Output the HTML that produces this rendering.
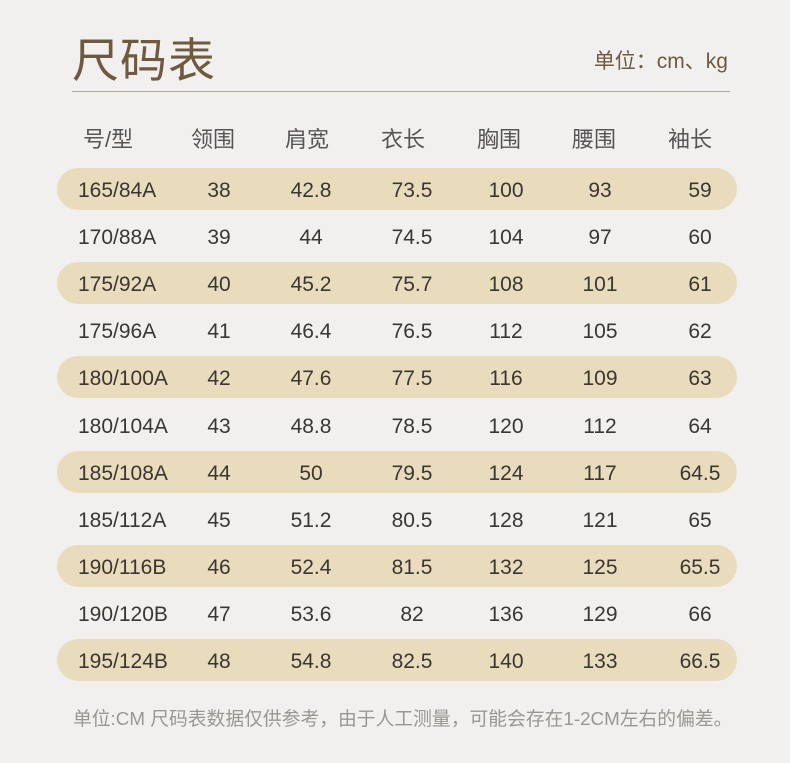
<!DOCTYPE html>
<html><head><meta charset="utf-8"><style>
body{margin:0;width:790px;height:763px;background:#f2f0ee;position:relative;overflow:hidden;font-family:"Liberation Sans","Noto Sans CJK SC",sans-serif}
.a{position:absolute;white-space:nowrap}
.t{left:72px;top:22px;font-size:47px;color:#6e5a3e;letter-spacing:1px}
.u{right:62px;top:45px;font-size:21px;color:#6e5a3e}
.line{left:72px;top:91px;width:658px;height:1px;background:#b0a898}
.h{top:122px;font-size:22px;color:#555;transform:translateX(-50%)}
.band{left:57px;width:680px;height:42px;border-radius:21px;background:#e9dcbd}
.d{font-family:"Liberation Sans Narrow","Liberation Sans",sans-serif;font-size:21px;color:#3a3632;transform:translateX(-50%)}
.f{left:73px;top:704px;font-size:18.8px;color:#9a9692}
</style></head><body>
<div class="a t">尺码表</div>
<div class="a u">单位：cm、kg</div>
<div class="a line"></div>
<div class="a h" style="left:108px">号/型</div>
<div class="a h" style="left:213px">领围</div>
<div class="a h" style="left:307px">肩宽</div>
<div class="a h" style="left:403px">衣长</div>
<div class="a h" style="left:499px">胸围</div>
<div class="a h" style="left:594px">腰围</div>
<div class="a h" style="left:690px">袖长</div>
<div id="rows"></div>
<script>
var d=[["165/84A",38,"42.8","73.5",100,93,59],["170/88A",39,44,"74.5",104,97,60],["175/92A",40,"45.2","75.7",108,101,61],["175/96A",41,"46.4","76.5",112,105,62],["180/100A",42,"47.6","77.5",116,109,63],["180/104A",43,"48.8","78.5",120,112,64],["185/108A",44,50,"79.5",124,117,"64.5"],["185/112A",45,"51.2","80.5",128,121,65],["190/116B",46,"52.4","81.5",132,125,"65.5"],["190/120B",47,"53.6",82,136,129,66],["195/124B",48,"54.8","82.5",140,133,"66.5"]];
var xs=[null,219,311,412,506,600,700],h="";
d.forEach(function(r,i){var c=189+i*47.1;
if(i%2==0)h+='<div class="a band" style="top:'+(c-21)+'px"></div>';
h+='<div class="a d" style="left:78px;top:'+(c-10)+'px;transform:none">'+r[0]+'</div>';
for(var j=1;j<7;j++)h+='<div class="a d" style="left:'+xs[j]+'px;top:'+(c-10)+'px">'+r[j]+'</div>';});
document.getElementById("rows").innerHTML=h;
</script>
<div class="a f">单位:CM 尺码表数据仅供参考，由于人工测量，可能会存在1-2CM左右的偏差。</div>
</body></html>
